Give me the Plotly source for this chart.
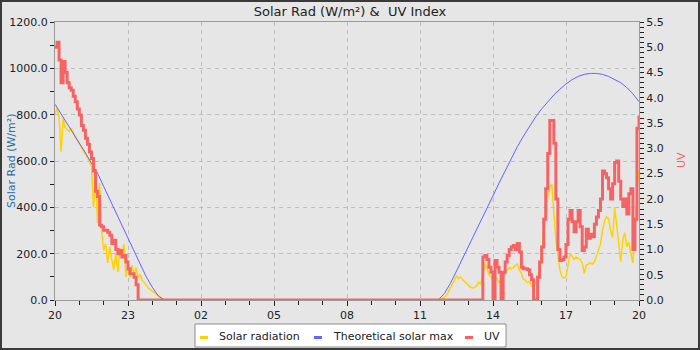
import pandas as pd
import plotly.graph_objects as go

# ---------------------------------------------------------------------------
# Data: 24 h of station readings, 20:00 -> 20:00 next day
# ---------------------------------------------------------------------------
EVENING_DAY = "2023-01-01"
MORNING_DAY = "2023-01-02"
STEP_MIN = 5          # station sampling interval (minutes)
THEO_STEP_MIN = 15    # theoretical curve sampling interval (minutes)

SERIES_NAMES = ["Solar radiation", "Theoretical solar max", "UV"]
X_TICK_LABELS = ["20", "23", "02", "05", "08", "11", "14", "17", "20"]

# Solar radiation (W/m²), evening 20:00 -> 00:35
SOLAR_EVENING_START = "20:00"
SOLAR_EVENING = [
    805, 826, 790, 640, 784, 746, 735, 728, 742, 718, 703, 690,
    675, 666, 650, 636, 620, 600, 578, 400, 540, 330, 505, 300,
    214, 243, 160, 230, 175, 130, 205, 120, 225, 185, 240, 100,
    150, 98, 150, 113, 140, 98, 110, 84, 77, 62, 52, 45,
    38, 30, 22, 15, 10, 5, 2, 0,
]
# Solar radiation (W/m²), morning 11:45 -> 20:00
SOLAR_MORNING_START = "11:45"
SOLAR_MORNING = [
    0, 2, 6,
    12, 20, 35, 55, 70, 85, 105, 92, 100, 88, 80, 70,
    60, 55, 52, 55, 62, 77, 68, 110, 160, 140, 110, 100,
    84, 98, 95, 75, 90, 105, 120, 130, 140, 135, 140, 150,
    155, 130, 115, 90, 85, 75, 80, 60, 70, 75, 100, 150,
    200, 290, 380, 450, 490, 500, 380, 260, 190, 130, 100, 95,
    100, 150, 200, 190, 175, 185, 180, 175, 160, 115, 150, 155,
    160, 155, 165, 190, 215, 240, 300, 340, 360, 350, 300, 270,
    400, 330, 240, 165, 260, 290, 230, 250, 200, 160, 300, 480,
    560,
]

# Theoretical clear-sky maximum (W/m²)
THEO_EVENING_START = "20:00"
THEO_EVENING = [
    845, 804, 764, 722, 679, 635, 590, 547, 490, 435, 382, 322,
    265, 210, 155, 100, 55, 17, 0,
]
THEO_MORNING_START = "11:45"
THEO_MORNING = [
    0, 28, 72, 125, 178, 232, 285, 340, 395, 450, 505, 558,
    610, 662, 707, 750, 790, 825, 857, 885, 910, 933, 951, 965,
    974, 978, 978, 974, 965, 952, 938, 917, 890, 856,
]

# UV index
UV_EVENING_START = "20:00"
UV_EVENING = [
    5.00, 5.10, 4.75, 4.30, 4.72, 4.50, 4.30, 4.20, 4.15, 4.03, 3.92, 3.78,
    3.66, 3.45, 3.36, 3.20, 3.08, 2.93, 2.80, 2.55, 2.15, 2.05, 1.48, 1.45,
    1.38, 1.38, 1.34, 1.28, 1.12, 1.18, 1.00, 0.92, 0.98, 0.85, 0.88, 0.75,
    0.62, 0.52, 0.52, 0.45, 0.30, 0.00,
]
UV_MORNING_START = "13:30"
UV_MORNING = [
    0.00, 0.85, 0.88, 0.80, 0.65, 0.55,
    0.00, 0.78, 0.65, 0.55, 0.00, 0.55, 0.75, 0.88, 1.00, 1.05, 1.08, 1.00,
    1.12, 0.95, 0.65, 0.62, 0.62, 0.60, 0.50, 0.40, 0.00, 0.00, 0.45, 0.75,
    1.05, 1.60, 2.20, 2.90, 3.55, 3.55, 3.10, 2.00, 1.00, 0.78, 0.80, 0.85,
    1.10, 1.60, 1.77, 1.55, 1.35, 1.55, 1.77, 1.45, 0.98, 1.05, 1.40, 1.22,
    1.30, 1.25, 1.50, 1.64, 1.77, 2.00, 2.55, 2.50, 2.42, 2.20, 2.00, 2.30,
    2.72, 2.75, 2.35, 2.00, 1.85, 2.00, 1.70, 2.10, 2.20, 1.00, 1.60, 3.40,
    3.65,
]

# ---------------------------------------------------------------------------
# Styling
# ---------------------------------------------------------------------------
FONT = "DejaVu Sans"
BG = "#e6e6e6"
C_SOLAR = "#ffd200"
C_THEO = "#6464ff"
C_UV = "#f46464"
C_LEFT_TITLE = "#2a6ea6"
GRID = "#bdbdbd"
GRID_DASH = "4px,4px"
AXIS_LINE = "#9a9a9a"

W, H = 700, 350
ML, MR, MT, MB = 55, 61, 22, 50
PW, PH = W - ML - MR, H - MT - MB


def px(x):
    """pixel column -> paper x"""
    return (x - ML) / PW


def py(y):
    """pixel row -> paper y"""
    return (H - MB - y) / PH


def stamps(day, start, n, step):
    return list(pd.date_range(f"{day} {start}", periods=n, freq=f"{step}min"))


def join(day_a, start_a, vals_a, day_b, start_b, vals_b, step):
    x = stamps(day_a, start_a, len(vals_a), step) + stamps(day_b, start_b, len(vals_b), step)
    return x, list(vals_a) + list(vals_b)


x_solar, y_solar = join(EVENING_DAY, SOLAR_EVENING_START, SOLAR_EVENING,
                        MORNING_DAY, SOLAR_MORNING_START, SOLAR_MORNING, STEP_MIN)
x_theo, y_theo = join(EVENING_DAY, THEO_EVENING_START, THEO_EVENING,
                      MORNING_DAY, THEO_MORNING_START, THEO_MORNING, THEO_STEP_MIN)
x_uv, y_uv = join(EVENING_DAY, UV_EVENING_START, UV_EVENING,
                  MORNING_DAY, UV_MORNING_START, UV_MORNING, STEP_MIN)

x_start = pd.Timestamp(f"{EVENING_DAY} 20:00")
x_end = pd.Timestamp(f"{MORNING_DAY} 20:00")
tick_vals = list(pd.date_range(x_start, x_end, freq="3h"))

fig = go.Figure()
fig.add_trace(go.Scatter(x=x_uv, y=y_uv, name=SERIES_NAMES[2], yaxis="y2",
                         mode="lines", line=dict(color=C_UV, width=3, shape="hv"),
                         showlegend=False))
fig.add_trace(go.Scatter(x=x_solar, y=y_solar, name=SERIES_NAMES[0],
                         mode="lines", line=dict(color=C_SOLAR, width=1.5),
                         showlegend=False))
fig.add_trace(go.Scatter(x=x_theo, y=y_theo, name=SERIES_NAMES[1],
                         mode="lines", line=dict(color=C_THEO, width=1),
                         showlegend=False))

tick_font = dict(family=FONT, size=11, color="#222222")

fig.update_layout(
    width=W, height=H,
    margin=dict(l=ML, r=MR, t=MT, b=MB, pad=0, autoexpand=False),
    paper_bgcolor=BG, plot_bgcolor=BG,
    font=dict(family=FONT, size=11, color="#222222"),
    title=dict(text="Solar Rad (W/m²) &\u00a0 UV Index",
               font=dict(family=FONT, size=13, color="#222222"),
               x=0.5, xref="container", xanchor="center",
               y=1 - 11 / H, yref="container", yanchor="middle"),
    xaxis=dict(
        type="date", range=[x_start, x_end], automargin=False,
        tickvals=tick_vals, ticktext=X_TICK_LABELS,
        ticks="outside", ticklen=5, tickcolor="#222222", tickfont=tick_font,
        minor=dict(dtick=3600000, tick0=x_start, ticks="outside", ticklen=4,
                   tickcolor="#222222", showgrid=False),
        showgrid=True, gridcolor=GRID, griddash=GRID_DASH, gridwidth=1,
        showline=True, linecolor=AXIS_LINE, linewidth=1, mirror=True,
        zeroline=False, fixedrange=True,
    ),
    yaxis=dict(
        range=[0, 1200], tick0=0, dtick=200, tickformat=".1f", automargin=False,
        ticks="outside", ticklen=4, tickcolor="#222222", tickfont=tick_font,
        minor=dict(dtick=100, ticks="outside", ticklen=4, tickcolor="#222222",
                   showgrid=False),
        showgrid=True, gridcolor=GRID, griddash=GRID_DASH, gridwidth=1,
        showline=True, linecolor=AXIS_LINE, linewidth=1,
        zeroline=False, fixedrange=True,
    ),
    yaxis2=dict(
        range=[0, 5.5], tick0=0, dtick=0.5, tickformat=".1f", automargin=False,
        overlaying="y", side="right", anchor="x",
        ticks="outside", ticklen=4, tickcolor="#222222", tickfont=tick_font,
        minor=dict(dtick=0.1, ticks="outside", ticklen=4, tickcolor="#222222",
                   showgrid=False),
        showgrid=False, showline=True, linecolor=AXIS_LINE, linewidth=1,
        zeroline=False, fixedrange=True,
    ),
)

shapes = [
    # outer frame
    dict(type="rect", xref="paper", yref="paper",
         x0=px(1), x1=px(699), y0=py(349), y1=py(1),
         line=dict(color="#3a3a3a", width=2), fillcolor="rgba(0,0,0,0)"),
    # legend box
    dict(type="rect", xref="paper", yref="paper",
         x0=px(195), x1=px(506), y0=py(347), y1=py(324),
         line=dict(color="#8c8c8c", width=1), fillcolor="#ffffff"),
]
legend_items = [
    (SERIES_NAMES[0], C_SOLAR, 200, 219),
    (SERIES_NAMES[1], C_THEO, 314, 333),
    (SERIES_NAMES[2], C_UV, 465, 484),
]
annotations = []
for name, color, sx, tx in legend_items:
    shapes.append(dict(type="line", xref="paper", yref="paper",
                       x0=px(sx), x1=px(sx + 8), y0=py(337.5), y1=py(337.5),
                       line=dict(color=color, width=3)))
    annotations.append(dict(text=name, xref="paper", yref="paper",
                            x=px(tx - 2), y=py(336.5), xanchor="left", yanchor="middle",
                            showarrow=False, font=dict(family=FONT, size=11, color="#222222")))

# axis titles
annotations.append(dict(text="Solar Rad (W/m²)", xref="paper", yref="paper",
                        x=px(11), y=py(161), textangle=-90, showarrow=False,
                        xanchor="center", yanchor="middle",
                        font=dict(family=FONT, size=11, color=C_LEFT_TITLE)))
annotations.append(dict(text="UV", xref="paper", yref="paper",
                        x=px(681), y=py(160), textangle=-90, showarrow=False,
                        xanchor="center", yanchor="middle",
                        font=dict(family=FONT, size=11, color=C_UV)))

fig.update_layout(shapes=shapes, annotations=annotations)

fig.write_html("out.html")
